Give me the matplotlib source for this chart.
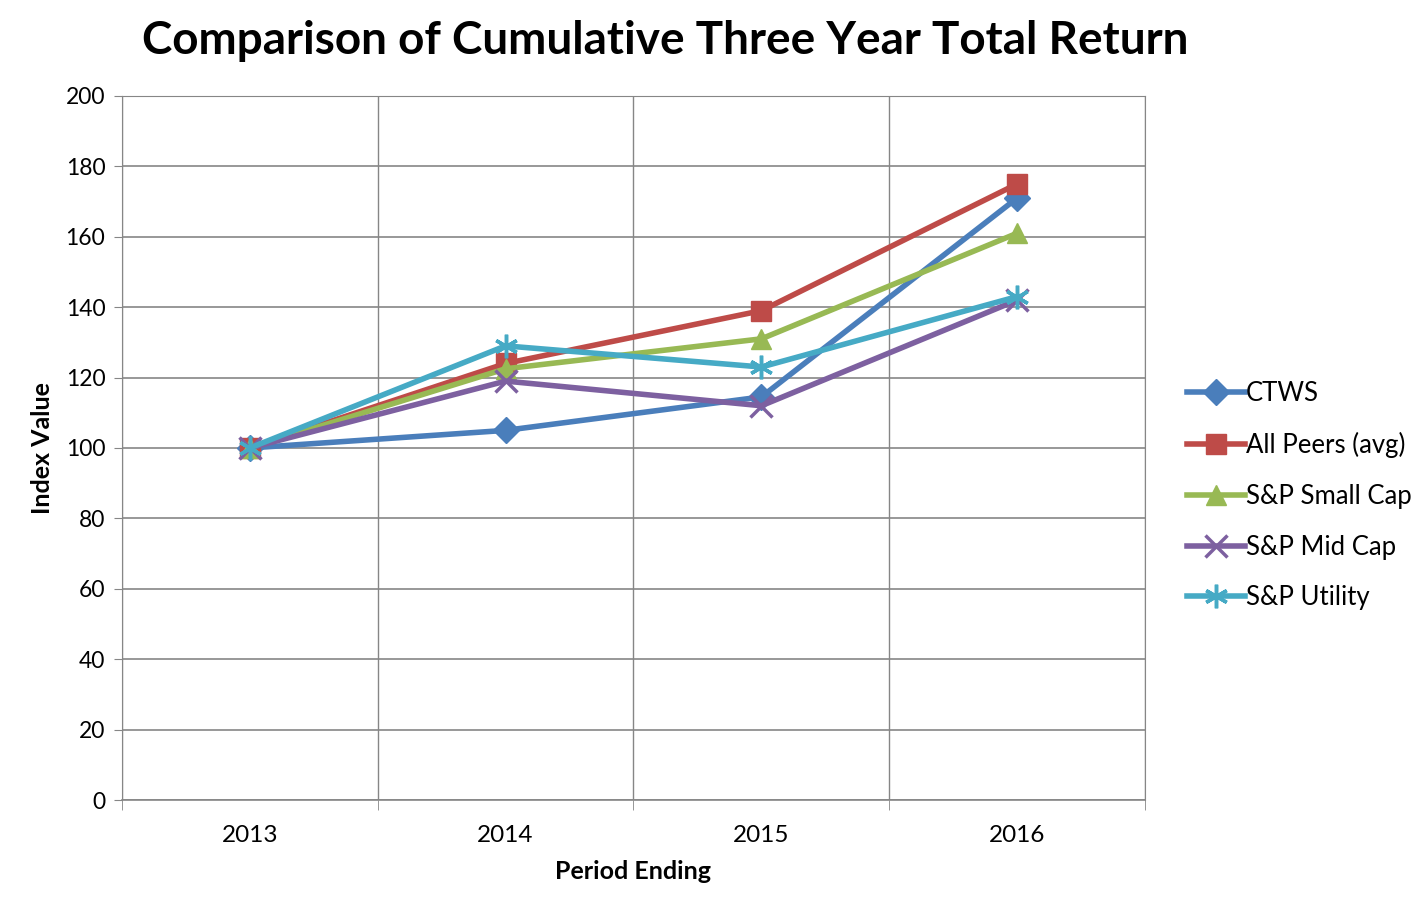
import matplotlib
matplotlib.use("Agg")
import matplotlib.pyplot as plt
import numpy as np

plt.rcParams['font.family'] = ['Lato', 'DejaVu Sans']

years = ['2013', '2014', '2015', '2016']
ctws = [100, 105, 114.5, 171]
all_peers = [100, 124, 139, 175]
small_cap = [100, 122.5, 131, 161]
mid_cap = [100, 119, 112, 142]
utility = [100, 129, 123, 143]

series = [
    ("CTWS", ctws, "#4a7ebb", "D", 13),
    ("All Peers (avg)", all_peers, "#be4b48", "s", 14),
    ("S&P Small Cap", small_cap, "#98b954", "^", 15),
    ("S&P Mid Cap", mid_cap, "#7d60a0", "x", 16),
    ("S&P Utility", utility, "#46aac5", "*", 0),
]

fig = plt.figure(figsize=(14.18, 9.05), dpi=100)
ax = fig.add_axes([0.086, 0.116, 0.7215, 0.778])

x = np.arange(len(years))
for name, vals, col, mk, ms in series:
    if mk == "*":
        # asterisk-like marker
        ax.plot(x, vals, color=col, lw=4.0, label=name, marker=(6, 2, 0),
                markersize=17, markeredgewidth=2.5, markeredgecolor=col)
    elif mk == "x":
        ax.plot(x, vals, color=col, lw=4.0, label=name, marker="x",
                markersize=ms, markeredgewidth=2.5)
    else:
        ax.plot(x, vals, color=col, lw=4.0, label=name, marker=mk,
                markersize=ms, markeredgecolor=col)

ax.set_xlim(-0.5, 3.5)
ax.set_ylim(0, 200)
ax.set_yticks(np.arange(0, 201, 20))
ax.set_xticks(x)
ax.set_xticklabels(years)
ax.set_xticks(np.arange(-0.5, 3.6, 1), minor=True)
ax.tick_params(axis='x', which='major', length=0, labelsize=17.5, pad=18)
ax.tick_params(axis='x', which='minor', length=7, color='#868686')
ax.tick_params(axis='y', length=6, color='#868686', labelsize=16.5, pad=6)
ax.grid(axis='y', color='#868686', lw=1.2)
ax.grid(axis='x', which='minor', color='#868686', lw=1.0)
ax.set_axisbelow(True)
for s in ax.spines.values():
    s.set_color('#868686')
ax.spines['bottom'].set_linewidth(1.2)

ax.set_xlabel("Period Ending", fontsize=18, fontweight='bold', labelpad=10)
ax.set_ylabel("Index Value", fontsize=18, fontweight='bold', labelpad=8)
fig.suptitle("Comparison of Cumulative Three Year Total Return",
             fontsize=33, fontweight='bold', x=0.469, y=0.978)

ax.legend(loc='center left', bbox_to_anchor=(1.031, 0.432), borderaxespad=0,
          frameon=False, fontsize=18.5, handlelength=2.25, handletextpad=0.05,
          labelspacing=1.0)

fig.savefig("out.png", dpi=100)
